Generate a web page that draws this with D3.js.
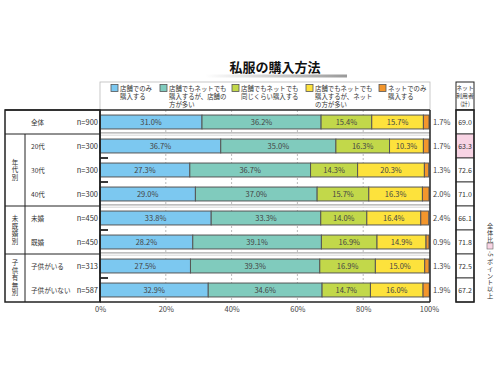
<!DOCTYPE html>
<html>
<head>
<meta charset="utf-8">
<script src="https://cdn.jsdelivr.net/npm/d3@7"></script>
<style>
  body { margin: 0; background: #fff; }
  svg { display: block; font-family: "Noto Sans CJK JP", sans-serif; }
</style>
</head>
<body>
<div id="chart"></div>
<script>
// data
var rows = ["全体", "20代", "30代", "40代", "未婚", "既婚", "子供がいる", "子供がいない"];
var counts = ["n=900", "n=300", "n=300", "n=300", "n=450", "n=450", "n=313", "n=587"];
var storeOnly = [31.0, 36.7, 27.3, 29.0, 33.8, 28.2, 27.5, 32.9];
var storeMore = [36.2, 35.0, 36.7, 37.0, 33.3, 39.1, 39.3, 34.6];
var sameBoth = [15.4, 16.3, 14.3, 15.7, 14.0, 16.9, 16.9, 14.7];
var netMore = [15.7, 10.3, 20.3, 16.3, 16.4, 14.9, 15.0, 16.0];
var netOnly = [1.7, 1.7, 1.3, 2.0, 2.4, 0.9, 1.3, 1.9];
var netUsers = [69.0, 63.3, 72.6, 71.0, 66.1, 71.8, 72.5, 67.2];
var groups = [
  {name: "年代別", first: 1, last: 3},
  {name: "未既婚別", first: 4, last: 5},
  {name: "子供有無別", first: 6, last: 7}
];
var seriesNames = [
  ["店舗でのみ", "購入する"],
  ["店舗でもネットでも", "購入するが、店舗の", "方が多い"],
  ["店舗でもネットでも", "同じくらい購入する"],
  ["店舗でもネットでも", "購入するが、ネット", "の方が多い"],
  ["ネットでのみ", "購入する"]
];
var ticks = [0, 20, 40, 60, 80, 100];

var colors = ["#7cc8f0", "#80cbbd", "#c2d84a", "#fde23c", "#f3962c"];
var series = [storeOnly, storeMore, sameBoth, netMore, netOnly];

var W = 500, H = 374;
var svg = d3.select("#chart").append("svg").attr("width", W).attr("height", H);

var plotTop = 110, plotBottom = 302;
var x = d3.scaleLinear().domain([0, 100]).range([100, 429]);
var y = d3.scaleBand().domain(rows).range([plotTop, plotBottom]).paddingInner(0.42).paddingOuter(0.21);
var step = y.step();

// vertical text: one text element, one glyph per tspan
function vtext(str, cx, y0, size, gap) {
  var t = svg.append("text").attr("text-anchor", "middle")
    .style("font-size", size + "px").attr("fill", "#333");
  str.split("").forEach(function(c, j) {
    t.append("tspan").attr("x", cx).attr("y", y0 + j * gap).text(c);
  });
  return y0 + str.length * gap;
}

// title
var grad = svg.append("defs").append("linearGradient").attr("id", "tl");
grad.append("stop").attr("offset", "0%").attr("stop-color", "#fff");
grad.append("stop").attr("offset", "100%").attr("stop-color", "#999");
svg.append("rect").attr("x", 205).attr("y", 74.5).attr("width", 142).attr("height", 3).attr("fill", "url(#tl)");
svg.append("text").attr("x", 275).attr("y", 72).attr("text-anchor", "middle")
  .style("font-size", "13px").style("font-weight", "bold").attr("fill", "#111")
  .text("私服の購入方法");

// legend
svg.append("rect").attr("x", 100).attr("y", 82).attr("width", 330).attr("height", 28)
  .attr("fill", "#fff").attr("stroke", "#bbb").attr("stroke-width", 0.8);
var legX = [111, 160, 232, 306, 379];
seriesNames.forEach(function(lines, i) {
  svg.append("rect").attr("x", legX[i]).attr("y", 84.5).attr("width", 7).attr("height", 7)
    .attr("fill", colors[i]).attr("stroke", "#555").attr("stroke-width", 0.8);
  var t = svg.append("text").attr("x", legX[i] + 9).attr("y", 90.5)
    .style("font-size", "6.4px").attr("fill", "#333");
  lines.forEach(function(l, j) {
    t.append("tspan").attr("x", legX[i] + 9).attr("dy", j ? 8.3 : 0).text(l);
  });
});

// header for net users
svg.append("rect").attr("x", 456).attr("y", 82).attr("width", 18).attr("height", 28)
  .attr("fill", "#fff").attr("stroke", "#222").attr("stroke-width", 1);
var hdr = svg.append("text").attr("text-anchor", "middle").style("font-size", "5.8px").attr("fill", "#333");
["ネット", "利用者", "(計)"].forEach(function(l, j) {
  hdr.append("tspan").attr("x", 465).attr("y", 89.5 + j * 8.3).text(l);
});

// grid
svg.selectAll(".grid").data([20, 40, 60, 80]).enter().append("line")
  .attr("x1", function(d) { return x(d); }).attr("x2", function(d) { return x(d); })
  .attr("y1", plotTop).attr("y2", plotBottom)
  .attr("stroke", "#aaa").attr("stroke-width", 0.8).attr("stroke-dasharray", "2,2");

// group separators in plot
var seps = groups.map(function(g) { return plotTop + g.first * step; });
seps.forEach(function(s) {
  svg.append("rect").attr("x", 100).attr("y", s - 1.5).attr("width", 330).attr("height", 3).attr("fill", "#fff");
  svg.append("line").attr("x1", 100).attr("x2", 430).attr("y1", s - 1.2).attr("y2", s - 1.2)
    .attr("stroke", "#aaa").attr("stroke-width", 1.2);
  svg.append("line").attr("x1", 100).attr("x2", 430).attr("y1", s + 1.2).attr("y2", s + 1.2)
    .attr("stroke", "#ccc").attr("stroke-width", 0.8);
});

// small ticks inside groups
groups.forEach(function(g) {
  for (var i = g.first + 1; i <= g.last; i++) {
    var yy = plotTop + i * step;
    svg.append("line").attr("x1", 100).attr("x2", 108).attr("y1", yy).attr("y2", yy)
      .attr("stroke", "#222").attr("stroke-width", 1.8);
  }
});

// bars
var stackData = rows.map(function(r, i) {
  var acc = 0;
  return series.map(function(s, k) {
    var o = {row: r, k: k, v: s[i], x0: acc, x1: acc + s[i]};
    acc += s[i];
    return o;
  });
});
var rowG = svg.selectAll(".row").data(stackData).enter().append("g");
rowG.selectAll("rect").data(function(d) { return d; }).enter().append("rect")
  .attr("x", function(d) { return x(d.x0); })
  .attr("y", function(d) { return y(d.row); })
  .attr("width", function(d) { return x(d.x1) - x(d.x0); })
  .attr("height", y.bandwidth())
  .attr("fill", function(d) { return colors[d.k]; })
  .attr("stroke", "#555").attr("stroke-width", 1);
rowG.selectAll("text").data(function(d) { return d; }).enter().append("text")
  .attr("x", function(d) { return d.k < 4 ? x((d.x0 + d.x1) / 2) : 433; })
  .attr("y", function(d) { return y(d.row) + y.bandwidth() / 2 + 3; })
  .attr("text-anchor", function(d) { return d.k < 4 ? "middle" : "start"; })
  .style("font-size", "7.5px").attr("fill", "#444")
  .text(function(d) { return d.v.toFixed(1) + "%"; });

// plot frame
svg.append("line").attr("x1", 5).attr("x2", 430).attr("y1", plotTop).attr("y2", plotTop).attr("stroke", "#333").attr("stroke-width", 1.5);
svg.append("line").attr("x1", 100).attr("x2", 100).attr("y1", plotTop).attr("y2", plotBottom).attr("stroke", "#222").attr("stroke-width", 1.5);
svg.append("line").attr("x1", 430).attr("x2", 430).attr("y1", plotTop).attr("y2", plotBottom).attr("stroke", "#222").attr("stroke-width", 1.5);
svg.append("line").attr("x1", 100).attr("x2", 430).attr("y1", plotBottom).attr("y2", plotBottom).attr("stroke", "#222").attr("stroke-width", 1.5);

// x axis
var ax = svg.append("g").attr("transform", "translate(0," + (plotBottom + 2) + ")")
  .call(d3.axisBottom(x).tickValues(ticks).tickSize(0).tickFormat(function(d) { return d + "%"; }));
ax.select(".domain").remove();
ax.selectAll("text").style("font-size", "7.5px").style("font-family", "Noto Sans CJK JP, sans-serif").attr("fill", "#444");

// left table
svg.append("rect").attr("x", 5).attr("y", plotTop).attr("width", 95).attr("height", plotBottom - plotTop)
  .attr("fill", "none").attr("stroke", "#222").attr("stroke-width", 1.5);
svg.append("line").attr("x1", 25).attr("x2", 25).attr("y1", seps[0]).attr("y2", plotBottom)
  .attr("stroke", "#222").attr("stroke-width", 1);
seps.forEach(function(s) {
  svg.append("line").attr("x1", 5).attr("x2", 100).attr("y1", s).attr("y2", s).attr("stroke", "#222").attr("stroke-width", 1);
});
groups.forEach(function(g) {
  var cy = plotTop + (g.first + g.last + 1) / 2 * step;
  var n = g.name.length, gap = 7.5;
  vtext(g.name, 15, cy - (n * gap) / 2 + 6, 6.5, gap);
});
rows.forEach(function(r, i) {
  var cy = y(r) + y.bandwidth() / 2 + 3;
  svg.append("text").attr("x", 31).attr("y", cy).style("font-size", "6.6px").attr("fill", "#333").text(r);
  svg.append("text").attr("x", 98).attr("y", cy).attr("text-anchor", "end").style("font-size", "7.5px").attr("fill", "#333").text(counts[i]);
});

// right column: net users
rows.forEach(function(r, i) {
  var y0 = plotTop + i * step;
  svg.append("rect").attr("x", 456).attr("y", y0).attr("width", 18).attr("height", step)
    .attr("fill", netUsers[i] - netUsers[0] <= -5 ? "#f8d4e4" : "#fff")
    .attr("stroke", "#222").attr("stroke-width", 0.8);
  svg.append("text").attr("x", 465).attr("y", y0 + step / 2 + 3).attr("text-anchor", "middle")
    .style("font-size", "7px").attr("fill", "#333").text(netUsers[i].toFixed(1));
});
svg.append("rect").attr("x", 456).attr("y", plotTop).attr("width", 18).attr("height", plotBottom - plotTop)
  .attr("fill", "none").attr("stroke", "#222").attr("stroke-width", 1.5);

// note on the right
vtext("全体比", 490, 228, 6.2, 6.8);
svg.append("rect").attr("x", 487).attr("y", 243).attr("width", 6).attr("height", 6)
  .attr("fill", "#f8d4e4").attr("stroke", "#666").attr("stroke-width", 0.6);
svg.append("text").attr("transform", "translate(488,251) rotate(90)")
  .style("font-size", "6.2px").attr("fill", "#333").text("-5");
vtext("ポイント以上", 490, 264, 6.2, 6.8);
</script>
</body>
</html>
